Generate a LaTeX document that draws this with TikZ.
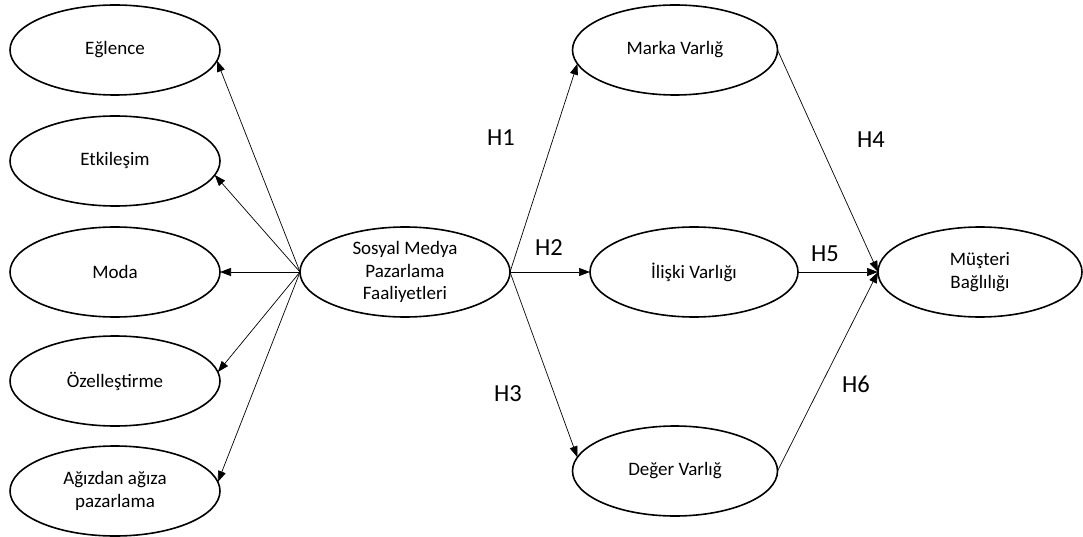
\documentclass[tikz,border=0pt]{standalone}
\usepackage{fontspec}
\setmainfont{Carlito}
\usetikzlibrary{shapes.geometric,arrows.meta}
\begin{document}
\begin{tikzpicture}[x=1pt,y=-1pt,
  oval/.style={ellipse,draw,line width=1.6pt,minimum width=210pt,minimum height=90pt,
    inner sep=0pt,outer sep=0pt,align=center,font=\fontsize{19}{22.5}\selectfont},
  link/.style={line width=0.7pt,-{Triangle[length=11pt,width=8pt]}},
  hyp/.style={font=\fontsize{24.5}{28}\selectfont}]
\useasboundingbox (0,0) rectangle (1083,537);
% dimensions of the social media activities
\node[oval] (e1) at (115,50) {Eğlence};
\node[oval] (e2) at (115,161) {Etkileşim};
\node[oval] (e3) at (115,272) {Moda};
\node[oval] (e4) at (115,381) {Özelleştirme};
\node[oval] (e5) at (115,491) {Ağızdan ağıza\\pazarlama};
% central construct
\node[oval] (s) at (405,272) {Sosyal Medya\\Pazarlama\\Faaliyetleri};
% brand equity components
\node[oval,minimum width=205pt] (m) at (675,50) {Marka Varlığ};
\node[oval,minimum width=208pt] (i) at (694,272) {İlişki Varlığı};
\node[oval,minimum width=205pt] (d) at (675,471) {Değer Varlığ};
% outcome
\node[oval,minimum width=204pt] (c) at (980,272) {Müşteri\\Bağlılığı};
% arrows to the dimensions
\draw[link] (s.west) -- (e1.-6);
\draw[link] (s.west) -- (e2.-8);
\draw[link] (s.west) -- (e3.east);
\draw[link] (s.west) -- (e4.5);
\draw[link] (s.west) -- (e5.5);
% hypothesised paths
\draw[link] (s.east) -- (m.188);
\draw[link] (s.east) -- (i.west);
\draw[link] (s.east) -- (d.172);
\draw[link] (m.east) -- (c.west);
\draw[link] (i.east) -- (c.west);
\draw[link] (d.east) -- (c.west);
% hypothesis labels
\node[hyp] (h1) at (501,138) {H1};
\node[hyp] (h2) at (549,248) {H2};
\node[hyp] (h3) at (508,394) {H3};
\node[hyp] (h4) at (871,140) {H4};
\node[hyp] (h5) at (825,254) {H5};
\node[hyp] (h6) at (856,384) {H6};
\end{tikzpicture}
\end{document}
